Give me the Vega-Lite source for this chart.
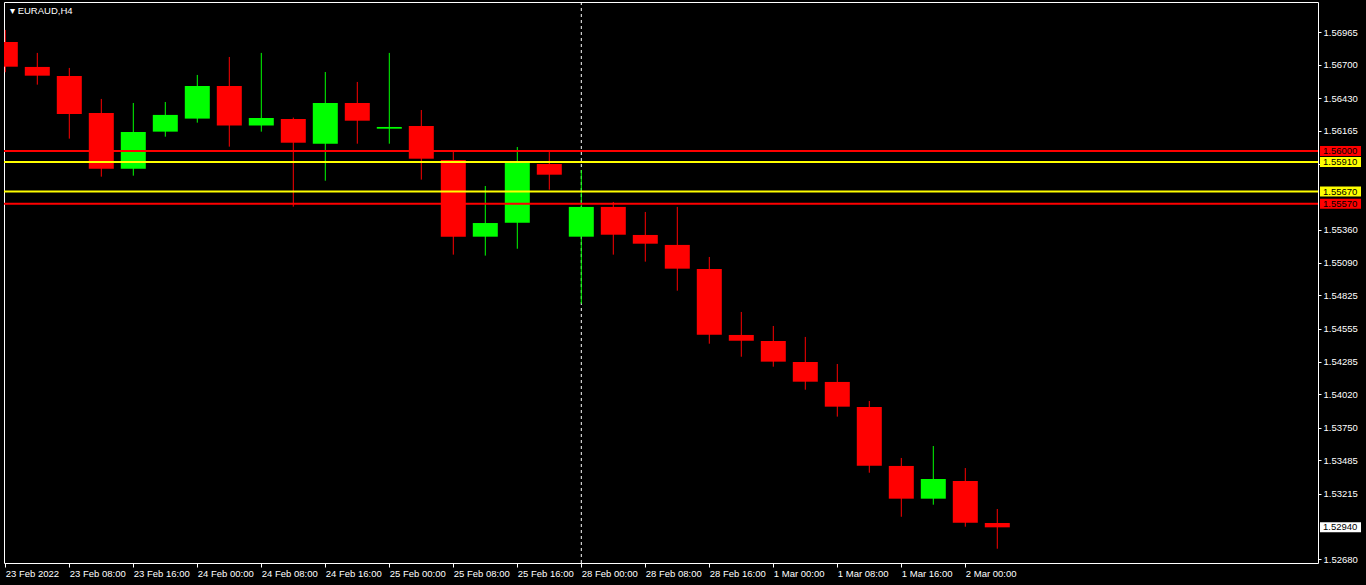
{
  "$schema": "https://vega.github.io/schema/vega-lite/v6.json",
  "width": 1314,
  "height": 561,
  "autosize": {"type": "none"},
  "padding": {"left": 4, "top": 2, "right": 48, "bottom": 22},
  "background": "#000000",
  "title": {"text": "▾  EURAUD,H4", "anchor": "start", "orient": "top", "frame": "group", "offset": -14, "baseline": "top", "color": "#ffffff", "fontSize": 9.5, "font": "Liberation Sans", "fontWeight": "normal", "dx": 6},
  "config": {"view": {"stroke": "#ffffff", "strokeWidth": 1, "fill": "#000000"}, "font": "Liberation Sans", "axis": {"labelOverlap": false}, "scale": {"continuousPadding": 0}},
  "datasets": {
    "candles": [
      {"i": 0, "t": "23 Feb 00:00", "o": 1.56886, "h": 1.56984, "l": 1.56640, "c": 1.56685},
      {"i": 1, "t": "23 Feb 04:00", "o": 1.56683, "h": 1.56797, "l": 1.56539, "c": 1.56612},
      {"i": 2, "t": "23 Feb 08:00", "o": 1.56610, "h": 1.56675, "l": 1.56100, "c": 1.56301},
      {"i": 3, "t": "23 Feb 12:00", "o": 1.56309, "h": 1.56423, "l": 1.55791, "c": 1.55856},
      {"i": 4, "t": "23 Feb 16:00", "o": 1.55856, "h": 1.56390, "l": 1.55799, "c": 1.56154},
      {"i": 5, "t": "23 Feb 20:00", "o": 1.56157, "h": 1.56398, "l": 1.56116, "c": 1.56293},
      {"i": 6, "t": "24 Feb 00:00", "o": 1.56263, "h": 1.56618, "l": 1.56230, "c": 1.56528},
      {"i": 7, "t": "24 Feb 04:00", "o": 1.56528, "h": 1.56764, "l": 1.56035, "c": 1.56206},
      {"i": 8, "t": "24 Feb 08:00", "o": 1.56206, "h": 1.56797, "l": 1.56157, "c": 1.56268},
      {"i": 9, "t": "24 Feb 12:00", "o": 1.56260, "h": 1.56271, "l": 1.55547, "c": 1.56067},
      {"i": 10, "t": "24 Feb 16:00", "o": 1.56059, "h": 1.56642, "l": 1.55758, "c": 1.56390},
      {"i": 11, "t": "24 Feb 20:00", "o": 1.56390, "h": 1.56561, "l": 1.56059, "c": 1.56246},
      {"i": 12, "t": "25 Feb 00:00", "o": 1.56181, "h": 1.56797, "l": 1.56059, "c": 1.56195},
      {"i": 13, "t": "25 Feb 04:00", "o": 1.56203, "h": 1.56333, "l": 1.55767, "c": 1.55937},
      {"i": 14, "t": "25 Feb 08:00", "o": 1.55927, "h": 1.55994, "l": 1.55157, "c": 1.55303},
      {"i": 15, "t": "25 Feb 12:00", "o": 1.55303, "h": 1.55715, "l": 1.55149, "c": 1.55414},
      {"i": 16, "t": "25 Feb 16:00", "o": 1.55417, "h": 1.56032, "l": 1.55205, "c": 1.55908},
      {"i": 17, "t": "25 Feb 20:00", "o": 1.55894, "h": 1.55994, "l": 1.55685, "c": 1.55807},
      {"i": 18, "t": "28 Feb 00:00", "o": 1.55303, "h": 1.55845, "l": 1.54758, "c": 1.55545},
      {"i": 19, "t": "28 Feb 04:00", "o": 1.55545, "h": 1.55585, "l": 1.55157, "c": 1.55319},
      {"i": 20, "t": "28 Feb 08:00", "o": 1.55317, "h": 1.55504, "l": 1.55100, "c": 1.55246},
      {"i": 21, "t": "28 Feb 12:00", "o": 1.55236, "h": 1.55545, "l": 1.54864, "c": 1.55043},
      {"i": 22, "t": "28 Feb 16:00", "o": 1.55040, "h": 1.55138, "l": 1.54433, "c": 1.54506},
      {"i": 23, "t": "28 Feb 20:00", "o": 1.54504, "h": 1.54691, "l": 1.54327, "c": 1.54457},
      {"i": 24, "t": "1 Mar 00:00", "o": 1.54455, "h": 1.54577, "l": 1.54246, "c": 1.54287},
      {"i": 25, "t": "1 Mar 04:00", "o": 1.54284, "h": 1.54488, "l": 1.54059, "c": 1.54124},
      {"i": 26, "t": "1 Mar 08:00", "o": 1.54122, "h": 1.54268, "l": 1.53840, "c": 1.53921},
      {"i": 27, "t": "1 Mar 12:00", "o": 1.53918, "h": 1.53967, "l": 1.53384, "c": 1.53441},
      {"i": 28, "t": "1 Mar 16:00", "o": 1.53439, "h": 1.53504, "l": 1.53026, "c": 1.53173},
      {"i": 29, "t": "1 Mar 20:00", "o": 1.53173, "h": 1.53601, "l": 1.53124, "c": 1.53333},
      {"i": 30, "t": "2 Mar 00:00", "o": 1.53317, "h": 1.53422, "l": 1.52945, "c": 1.52978},
      {"i": 31, "t": "2 Mar 04:00", "o": 1.52975, "h": 1.53089, "l": 1.52766, "c": 1.52940}
    ],
    "levels": [
      {"price": 1.56000, "kind": "red"},
      {"price": 1.55910, "kind": "yellow"},
      {"price": 1.55670, "kind": "yellow"},
      {"price": 1.55570, "kind": "red"},
      {"price": 1.52940, "kind": "bid"}
    ],
    "separator": [{"i": 18}]
  },
  "layer": [
    {
      "data": {"name": "separator"},
      "mark": {"type": "rule", "color": "#ffffff", "strokeWidth": 1, "strokeDash": [3, 3]},
      "encoding": {
        "x": {"field": "i", "type": "quantitative",
          "scale": {"domain": [-0.0406, 41.022], "nice": false, "zero": false, "padding": 0},
          "axis": {"title": null, "values": [0, 2, 4, 6, 8, 10, 12, 14, 16, 18, 20, 22, 24, 26, 28, 30], "tickCount": 100,
            "labelExpr": "['23 Feb 2022','23 Feb 08:00','23 Feb 16:00','24 Feb 00:00','24 Feb 08:00','24 Feb 16:00','25 Feb 00:00','25 Feb 08:00','25 Feb 16:00','28 Feb 00:00','28 Feb 08:00','28 Feb 16:00','1 Mar 00:00','1 Mar 08:00','1 Mar 16:00','2 Mar 00:00'][datum.value/2]",
            "domain": false, "grid": false, "tickColor": "#ffffff", "tickSize": 4, "labelColor": "#ffffff",
            "labelFont": "Liberation Sans", "labelFontSize": 9.5, "labelAlign": "left", "labelPadding": 1,
            "labelOverlap": false, "labelFlush": false, "labelBound": false}}
      }
    },
    {
      "data": {"name": "candles"},
      "mark": {"type": "rule", "strokeWidth": 1, "clip": true},
      "encoding": {
        "x": {"field": "i", "type": "quantitative"},
        "y": {"field": "l", "type": "quantitative",
          "scale": {"domain": [1.5265, 1.57211], "nice": false, "zero": false, "padding": 0},
          "axis": {"orient": "right", "title": null, "tickCount": 100,
            "values": [1.56965, 1.567, 1.5643, 1.56165, 1.55895, 1.5536, 1.5509, 1.54825, 1.54555, 1.54285, 1.5402, 1.5375, 1.53485, 1.53215, 1.5268],
            "format": ".5f", "domain": false, "grid": false, "tickColor": "#ffffff", "tickSize": 3,
            "labelColor": "#ffffff", "labelFont": "Liberation Sans", "labelFontSize": 9.5, "labelPadding": 2,
            "labelOverlap": false, "labelBound": false, "labelFlush": false}},
        "y2": {"field": "h"},
        "color": {"condition": {"test": "datum.c >= datum.o", "value": "#00ff00"}, "value": "#ff0000"}
      }
    },
    {
      "data": {"name": "candles"},
      "mark": {"type": "bar", "width": 25, "clip": true, "orient": "vertical"},
      "encoding": {
        "x": {"field": "i", "type": "quantitative"},
        "y": {"field": "o", "type": "quantitative"},
        "y2": {"field": "c"},
        "color": {"condition": {"test": "datum.c >= datum.o", "value": "#00ff00"}, "value": "#ff0000"}
      }
    },
    {
      "data": {"name": "levels"},
      "transform": [{"filter": "datum.kind != 'bid'"}],
      "mark": {"type": "rule", "strokeWidth": 2, "clip": true},
      "encoding": {
        "y": {"field": "price", "type": "quantitative"},
        "color": {"field": "kind", "type": "nominal", "scale": {"domain": ["red", "yellow", "bid"], "range": ["#ff0000", "#ffff00", "#ffffff"]}, "legend": null}
      }
    },
    {
      "data": {"name": "levels"},
      "mark": {"type": "rect", "yOffset": -5, "y2Offset": 5, "clip": false},
      "encoding": {
        "x": {"datum": 41.084, "type": "quantitative"},
        "x2": {"datum": 42.366},
        "y": {"field": "price", "type": "quantitative"},
        "y2": {"field": "price"},
        "color": {"field": "kind", "type": "nominal", "legend": null}
      }
    },
    {
      "data": {"name": "levels"},
      "mark": {"type": "text", "align": "left", "baseline": "middle", "color": "#000000", "font": "Liberation Sans", "fontSize": 9.5, "clip": false},
      "encoding": {
        "x": {"datum": 41.18, "type": "quantitative"},
        "y": {"field": "price", "type": "quantitative"},
        "text": {"field": "price", "type": "quantitative", "format": ".5f"}
      }
    }
  ]
}
